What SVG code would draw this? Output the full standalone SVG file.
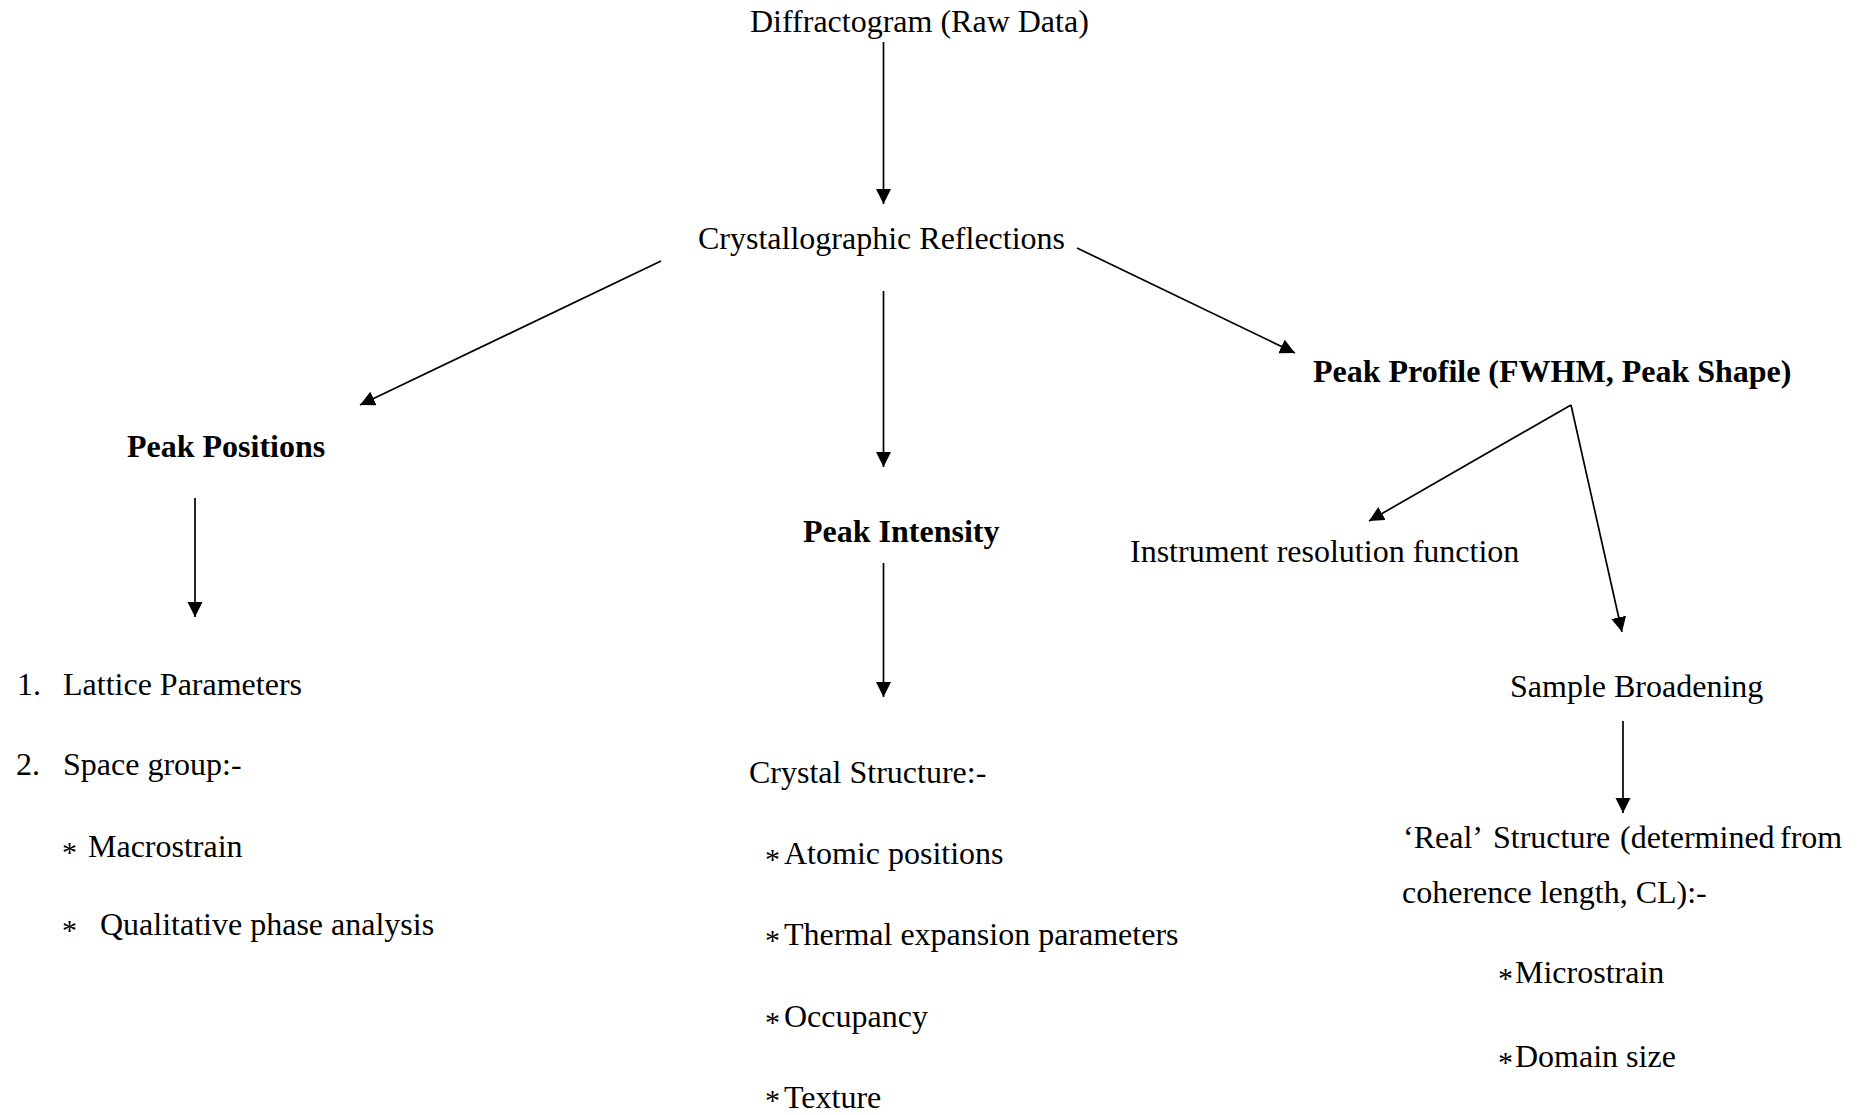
<svg xmlns="http://www.w3.org/2000/svg" width="1874" height="1115" viewBox="0 0 1874 1115">
<style>
text { font-family: "Liberation Serif", "Times New Roman", serif; font-size: 32px; fill: #000; }
.b { font-weight: bold; }
.s { font-size: 30px; }
.c { stroke: #000; stroke-width: 1.7; fill: none; marker-end: url(#ah); }
</style>
<defs>
<marker id="ah" markerUnits="userSpaceOnUse" markerWidth="16" markerHeight="16" refX="15" refY="7.5" orient="auto">
<path d="M0,0 L15,7.5 L0,15 z" fill="#000"/>
</marker>
</defs>
<rect width="1874" height="1115" fill="#fff"/>
<g id="connectors">
<line class="c" x1="883.5" y1="42" x2="883.5" y2="204"/>
<line class="c" x1="661" y1="261" x2="360" y2="405"/>
<line class="c" x1="883.5" y1="291" x2="883.5" y2="467"/>
<line class="c" x1="1077" y1="248" x2="1295" y2="353"/>
<line class="c" x1="195" y1="498" x2="195" y2="617"/>
<line class="c" x1="883.5" y1="563" x2="883.5" y2="697"/>
<line class="c" x1="1571" y1="405" x2="1369" y2="521"/>
<line class="c" x1="1571" y1="405" x2="1622" y2="632"/>
<line class="c" x1="1623" y1="721" x2="1623" y2="813"/>
</g>
<g id="diffractogram"><text x="750" y="32">Diffractogram (Raw Data)</text></g>
<g id="reflections"><text x="698" y="249">Crystallographic Reflections</text></g>
<g id="peak-positions"><text class="b" x="127" y="457">Peak Positions</text></g>
<g id="peak-intensity"><text class="b" x="803" y="542">Peak Intensity</text></g>
<g id="peak-profile"><text class="b" x="1313" y="382">Peak Profile (FWHM, Peak Shape)</text></g>
<g id="instrument"><text x="1130" y="562">Instrument resolution function</text></g>
<g id="sample-broadening"><text x="1510" y="697">Sample Broadening</text></g>
<g id="positions-list">
<text x="17" y="695">1.</text><text x="63" y="695">Lattice Parameters</text>
<text x="16" y="775">2.</text><text x="63" y="775">Space group:-</text>
<text class="s" x="62" y="862">*</text><text x="88" y="857">Macrostrain</text>
<text class="s" x="62" y="940">*</text><text x="100" y="935">Qualitative phase analysis</text>
</g>
<g id="crystal-structure">
<text x="749" y="783">Crystal Structure:-</text>
<text class="s" x="765" y="869">*</text><text x="784" y="864">Atomic positions</text>
<text class="s" x="765" y="950">*</text><text x="784" y="945">Thermal expansion parameters</text>
<text class="s" x="765" y="1032">*</text><text x="784" y="1027">Occupancy</text>
<text class="s" x="765" y="1110">*</text><text x="784" y="1108">Texture</text>
</g>
<g id="real-structure">
<text y="848"><tspan x="1403">‘Real’</tspan><tspan x="1493">Structure</tspan><tspan x="1620">(determined</tspan><tspan x="1780">from</tspan></text>
<text x="1402" y="903">coherence length, CL):-</text>
<text class="s" x="1498" y="988">*</text><text x="1515" y="983">Microstrain</text>
<text class="s" x="1498" y="1072">*</text><text x="1515" y="1067">Domain size</text>
</g>
</svg>
